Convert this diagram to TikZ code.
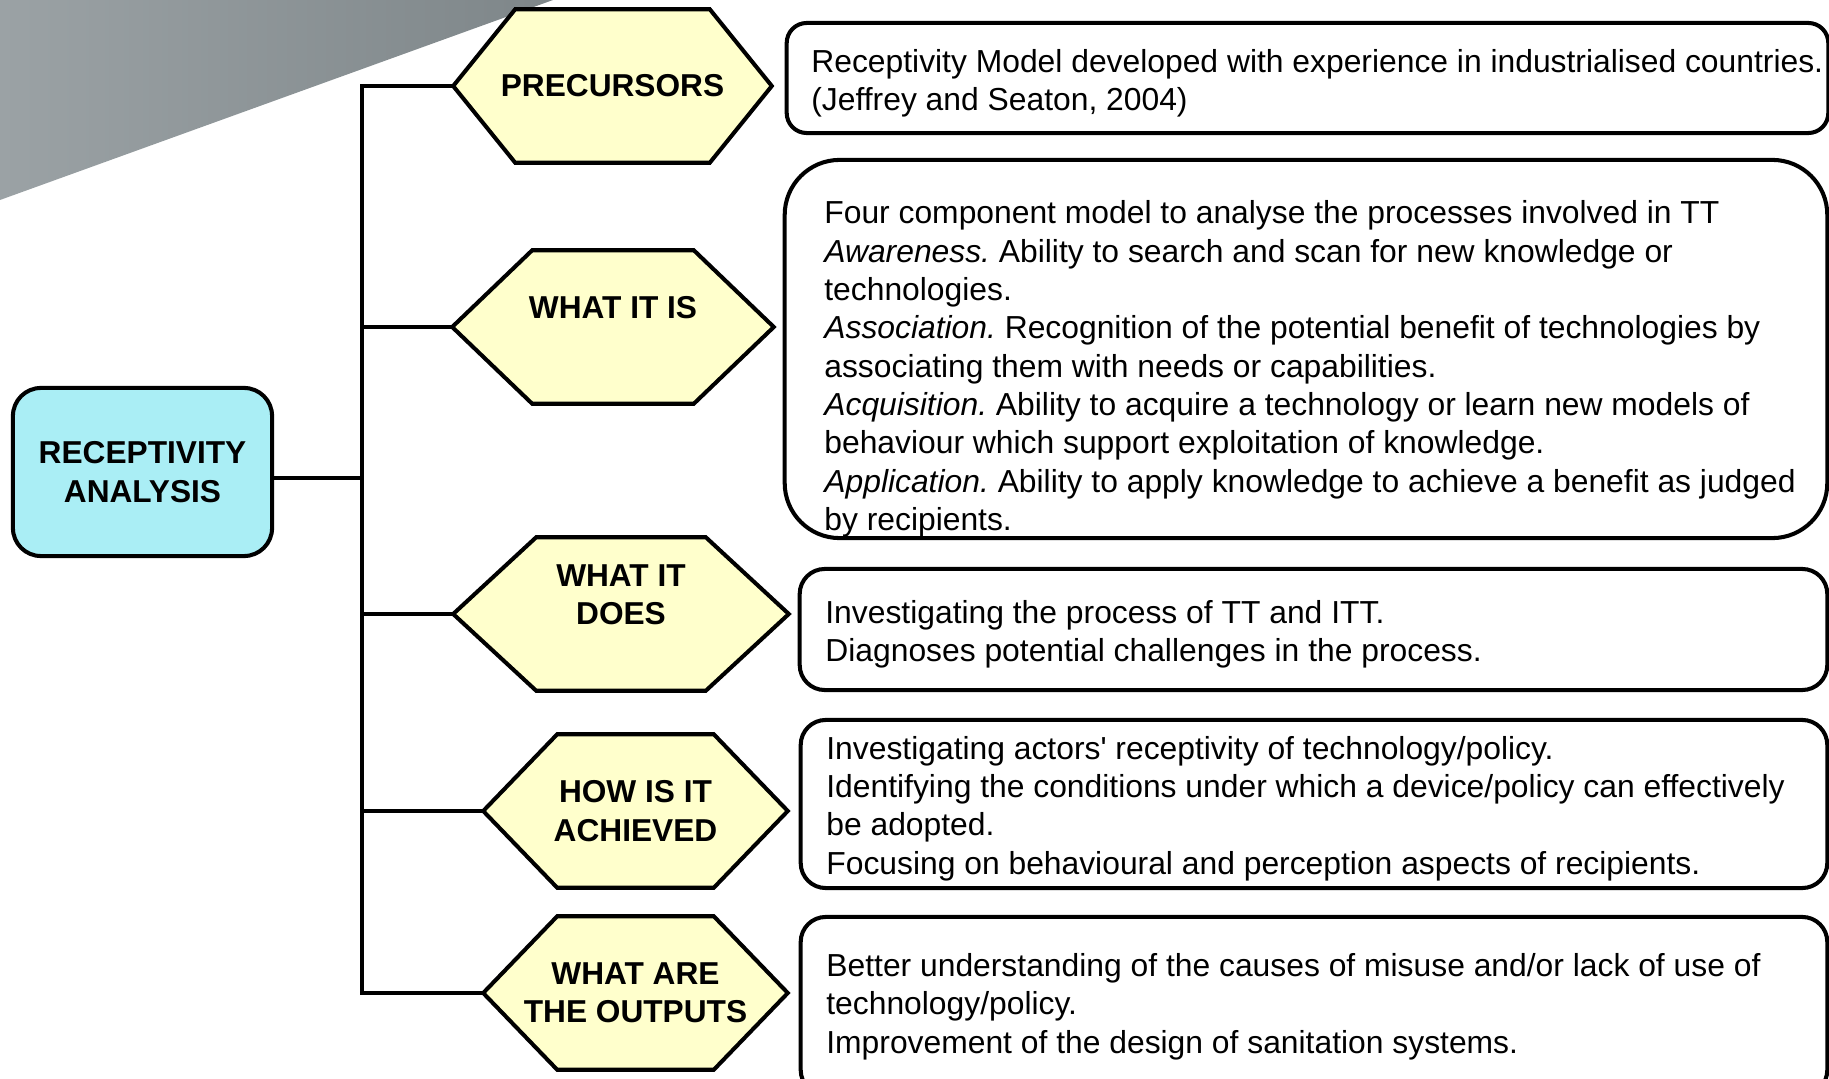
\documentclass[tikz,border=0pt]{standalone}
\usepackage{fontspec}
\setmainfont{Liberation Sans}
\usepackage{xcolor}
\usetikzlibrary{calc, positioning}
\pgfdeclarelayer{background}
\pgfsetlayers{background,main}
\definecolor{hexfill}{HTML}{FFFFCC}
\definecolor{rootfill}{HTML}{AAEEF5}
\definecolor{wedgelight}{HTML}{9BA2A5}
\definecolor{wedgedark}{HTML}{7E8689}
\frenchspacing

\begin{document}
\begin{tikzpicture}[
                x=0.01cm, y=-0.01cm,
                hexa/.style={inner sep=0pt, minimum height=1.52cm, align=center,
                    font=\fontsize{9}{10.9}\selectfont\bfseries},
                hexline/.style={draw=black, line width=1.15pt, fill=hexfill, line join=miter},
                rootbox/.style={draw=black, line width=1.15pt, fill=rootfill, rounded corners=0.28cm,
                    minimum width=2.59cm, minimum height=1.68cm, align=center,
                    font=\fontsize{9}{10.9}\selectfont\bfseries},
                infobox/.style={draw=black, line width=1.15pt, fill=white, rounded corners=0.25cm, inner sep=0pt},
                infotext/.style={anchor=west, align=left, inner sep=0pt, font=\fontsize{9.05}{10.9}\selectfont},
                branch/.style={line width=1.1pt}
            ]
                \useasboundingbox (0,0) rectangle (1829,1079);
                \clip (0,0) rectangle (1829,1079);

                \coordinate (trunk) at (362,0);

                \node[rootbox] (root) at (142.5,472) {RECEPTIVITY\\ANALYSIS};

                \node[hexa, minimum width=3.17cm] (precursors) at (612.5,86)  {PRECURSORS};
                \node[hexa, minimum width=3.20cm] (whatis)     at (613,327)   {WHAT IT IS\\\mbox{}};
                \node[hexa, minimum width=3.34cm] (whatdoes)   at (621,614)   {WHAT IT\\DOES\\\mbox{}};
                \node[hexa, minimum width=3.03cm] (howis)      at (635.5,811) {HOW IS IT\\ACHIEVED};
                \node[hexa, minimum width=3.03cm] (outputs)    at (635.5,993) {WHAT ARE\\THE OUTPUTS};

                \begin{pgfonlayer}{background}
                    \shade[left color=wedgelight, right color=wedgedark] (0,0) -- (553,0) -- (0,200) -- cycle;
                    \foreach \hx/\cut in {precursors/62, whatis/80, whatdoes/83, howis/74, outputs/74}
                        \path[hexline] (\hx.west) -- ($(\hx.north west)+(\cut,0)$) -- ($(\hx.north east)-(\cut,0)$)
                            -- (\hx.east) -- ($(\hx.south east)-(\cut,0)$) -- ($(\hx.south west)+(\cut,0)$) -- cycle;
                \end{pgfonlayer}

                \node[infobox, minimum width=10.41cm, minimum height=1.10cm, rounded corners=0.2cm] (precbox) at (1307.5,78) {};
                \node[infobox, minimum width=10.42cm, minimum height=3.78cm, rounded corners=0.55cm] (isbox) at (1306,349) {};
                \node[infobox, minimum width=10.27cm, minimum height=1.21cm] (doesbox) at (1313.5,629.5) {};
                \node[infobox, minimum width=10.26cm, minimum height=1.68cm] (howbox) at (1314,804) {};
                \node[infobox, minimum width=10.26cm, minimum height=1.78cm] (outbox) at (1314,1006) {};

                \node[infotext] (prectext) at ($(precbox.west)+(26,5)$)
                    {Receptivity Model developed with experience in industrialised countries.\\
                     (Jeffrey and Seaton, 2004)};
                \node[infotext] (istext) at ($(isbox.west)+(41,20)$)
                    {Four component model to analyse the processes involved in TT\\
                     \textit{Awareness.} Ability to search and scan for new knowledge or\\
                     technologies.\\
                     \textit{Association.} Recognition of the potential benefit of technologies by\\
                     associating them with needs or capabilities.\\
                     \textit{Acquisition.} Ability to acquire a technology or learn new models of\\
                     behaviour which support exploitation of knowledge.\\
                     \textit{Application.} Ability to apply knowledge to achieve a benefit as judged\\
                     by recipients.};
                \node[infotext] (doestext) at ($(doesbox.west)+(27,5)$)
                    {Investigating the process of TT and ITT.\\
                     Diagnoses potential challenges in the process.};
                \node[infotext] (howtext) at ($(howbox.west)+(27,4.5)$)
                    {Investigating actors\textquotesingle\ receptivity of technology/policy.\\
                     Identifying the conditions under which a device/policy can effectively\\
                     be adopted.\\
                     Focusing on behavioural and perception aspects of recipients.};
                \node[infotext] (outtext) at ($(outbox.west)+(27,0.5)$)
                    {Better understanding of the causes of misuse and/or lack of use of\\
                     technology/policy.\\
                     Improvement of the design of sanitation systems.};

                \begin{scope}[branch]
                    \draw ([yshift=-0.06cm]root.east) coordinate (rootout) -- (rootout -| trunk);
                    \draw (precursors.west) -- (precursors.west -| trunk) -- (outputs.west -| trunk) -- (outputs.west);
                    \draw (whatis.west -| trunk)   -- (whatis.west);
                    \draw (whatdoes.west -| trunk) -- (whatdoes.west);
                    \draw (howis.west -| trunk)    -- (howis.west);
                \end{scope}
            \end{tikzpicture}
\end{document}
